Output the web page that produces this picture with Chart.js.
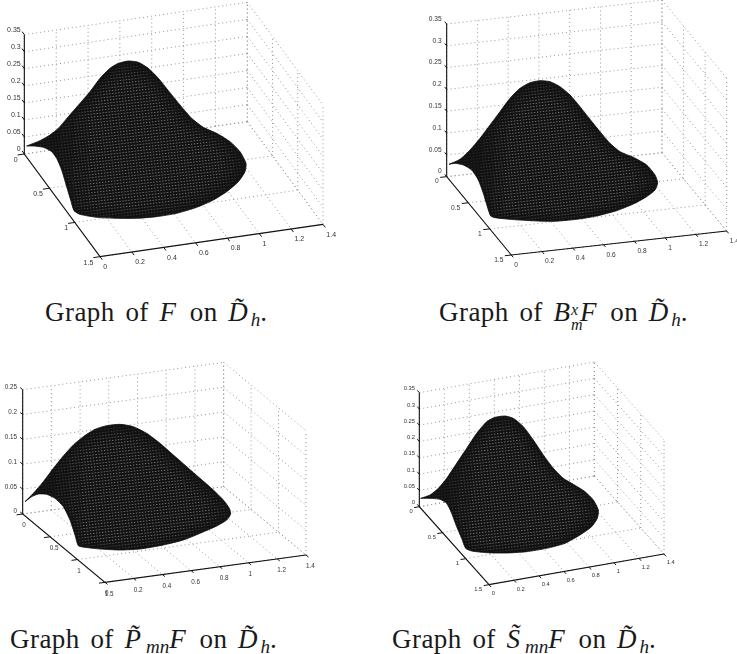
<!DOCTYPE html>
<html>
<head>
<meta charset="utf-8">
<script src="https://cdn.jsdelivr.net/npm/chart.js@4/dist/chart.umd.min.js"></script>
<style>
html,body{margin:0;padding:0;background:#fff;width:737px;height:654px;overflow:hidden}
canvas{position:absolute;display:block}
.cap{position:absolute;font-family:"Liberation Serif",serif;font-size:27px;line-height:30px;white-space:nowrap;color:#1a1a1a;letter-spacing:.45px;word-spacing:3.5px}
.cap i{letter-spacing:0;padding-right:3px}
.cap i.w{padding-right:5px}
.cap sub{font-size:19px;line-height:0;vertical-align:-5px;letter-spacing:2px}
.cap sub.mn{letter-spacing:4.5px}
.cap sub i{padding-right:0}
.st{display:inline-block;vertical-align:-9px;line-height:15px;font-size:16px;font-style:italic;text-align:left;margin:0 -3px 0 -2px}
.st span{display:block}
</style>
</head>
<body>
<div id="root"></div>
<script>
// ---- axis ticks ----
const xTicks = [0, 0.2, 0.4, 0.6, 0.8, 1, 1.2, 1.4];
const yTicks = [0, 0.5, 1, 1.5];
const zTicksTall = [0, 0.05, 0.1, 0.15, 0.2, 0.25, 0.3, 0.35];
const zTicksShort = [0, 0.05, 0.1, 0.15, 0.2, 0.25];
const xTickLabels = ['0', '0.2', '0.4', '0.6', '0.8', '1', '1.2', '1.4'];
const yTickLabels = ['0', '0.5', '1', '1.5'];
const zTallLabels = ['0', '0.05', '0.1', '0.15', '0.2', '0.25', '0.3', '0.35'];
const zShortLabels = ['0', '0.05', '0.1', '0.15', '0.2', '0.25'];

// ---- surface outlines in each view plane ----
const outlineFh = [80,120,150,175,205,240,270,300,330,355,385,415,445,475,505,540,575,610,650,690,720,738,735,715,680,640,590,530,470,410,350,290,240,222,212,200,185,170,155,130,100];
const outlineFv = [438,422,405,385,350,310,275,235,205,190,183,187,205,235,272,315,355,382,400,425,455,490,515,545,575,600,622,640,650,655,655,652,643,632,600,560,510,475,455,442,438];
const outlineBh = [207,240,270,300,330,360,390,420,450,480,510,540,570,600,630,660,690,720,760,800,825,833,825,800,760,710,650,590,520,450,390,345,332,322,310,295,275,250,225];
const outlineBv = [493,478,450,415,375,335,295,265,248,242,245,260,285,320,358,395,430,455,472,495,525,548,570,590,612,632,648,658,664,662,658,653,648,620,580,540,510,495,490];
const outlinePh = [75,100,130,160,190,220,250,285,320,360,400,440,480,520,560,600,640,670,688,692,680,650,600,550,490,420,360,300,255,235,225,210,190,165,140,115,95];
const outlinePv = [395,370,335,295,258,225,200,178,167,163,170,190,220,255,290,325,360,390,415,432,450,468,490,510,525,537,540,537,532,527,495,450,410,385,373,372,380];
const outlineSh = [122,150,175,200,230,260,290,320,345,375,400,430,460,490,520,550,580,615,640,655,652,635,600,555,500,440,380,320,275,257,245,230,215,200,180,150];
const outlineSv = [385,375,355,325,280,235,190,155,142,138,145,170,210,255,295,325,343,365,390,420,445,470,495,520,535,545,549,548,543,535,505,470,430,400,388,385];

const panels = [
 {left:0,top:0,w:340,h:280,vMin:0,A:[73,462],ex:[669,-97],ey:[227,308],H:358,zMax:.35,zT:zTicksTall,zL:zTallLabels,u:outlineFh,v:outlineFv,font:7,
  zo:[-11,-14],yo:[-20,18],yAlign:'right',xo:[10,31]},
 {left:380,top:0,w:357,h:280,vMin:0,A:[200,530],ex:[646,-72],ey:[194,235],H:458,zMax:.35,zT:zTicksTall,zL:zTallLabels,u:outlineBh,v:outlineBv,font:6.6,
  zo:[-15,-15],yo:[-24,15],yAlign:'right',xo:[9,30]},
 {left:0,top:350,w:340,h:260,vMin:-60,A:[68,432],ex:[603,-82],ey:[247,205],H:373,zMax:.25,zT:zTicksShort,zL:zShortLabels,u:outlinePh,v:outlinePv,font:6.3,
  zo:[-17,-7],yo:[-1,35],yAlign:'left',xo:[0,34]},
 {left:380,top:350,w:357,h:260,vMin:-60,A:[118,410],ex:[525,-92],ey:[209,234],H:342,zMax:.35,zT:zTicksTall,zL:zTallLabels,u:outlineSh,v:outlineSv,font:5.8,
  zo:[-13,-12],yo:[-20,15],yAlign:'right',xo:[8,26]}
];

function makeMeshPattern(dot,side){
  const t=document.createElement('canvas');t.width=3;t.height=3;
  const c=t.getContext('2d');
  c.fillStyle='#111111';c.fillRect(0,0,3,3);
  c.fillStyle=dot;c.fillRect(1,1,1,1);
  c.fillStyle=side;c.fillRect(2,1,1,1);
  const p=document.createElement('canvas').getContext('2d').createPattern(t,'repeat');
  p.setTransform(new DOMMatrix().rotate(-7));
  return p;
}

const tickLabelPlugin={
 id:'tickLabels',
 afterDatasetsDraw(chart,args,o){
  const c=chart.ctx,sx=chart.scales.x,sy=chart.scales.y,p=o.panel;
  const P=(x,y,z)=>project(p,x,y,z);
  c.save();
  c.font=p.font+'px "Liberation Sans"';c.fillStyle='#333';c.textBaseline='middle';
  const put=(q,off,txt,al)=>{c.textAlign=al;c.fillText(txt,sx.getPixelForValue(q.x+off[0]),sy.getPixelForValue(q.y+off[1]));};
  p.zT.forEach((z,i)=>put(P(0,0,z),p.zo,p.zL[i],'right'));
  yTicks.forEach((y,i)=>put(P(0,y,0),p.yo,yTickLabels[i],p.yAlign));
  xTicks.forEach((x,i)=>put(P(x,1.5,0),p.xo,xTickLabels[i],'left'));
  c.restore();
 }
};

function project(p,x,y,z){
  const a=x/1.4,b=y/1.5;
  return {x:p.A[0]+a*p.ex[0]+b*p.ey[0], y:p.A[1]+a*p.ex[1]+b*p.ey[1]-z/p.zMax*p.H};
}

panels.forEach((p,i)=>{
  const cv=document.createElement('canvas');
  cv.width=p.w;cv.height=p.h;
  cv.style.left=p.left+'px';cv.style.top=p.top+'px';cv.style.width=p.w+'px';cv.style.height=p.h+'px';
  document.getElementById('root').appendChild(cv);
  const P=(x,y,z)=>project(p,x,y,z);
  const gap={x:NaN,y:NaN};
  const zTop=p.zMax;
  const grid=[];
  const seg=(a,b)=>{grid.push(a,b,gap);};
  xTicks.forEach(x=>{seg(P(x,0,0),P(x,1.5,0));seg(P(x,0,0),P(x,0,zTop));});
  yTicks.forEach(y=>{seg(P(0,y,0),P(1.4,y,0));seg(P(1.4,y,0),P(1.4,y,zTop));});
  p.zT.forEach(z=>{seg(P(0,0,z),P(1.4,0,z));seg(P(1.4,0,z),P(1.4,1.5,z));});
  const axes=[P(0,0,zTop),P(0,0,0),P(0,1.5,0),P(1.4,1.5,0)];
  const ticks=[];
  const tk=(a,b)=>{ticks.push(a,b,gap);};
  p.zT.forEach(z=>tk(P(0,0,z),P(0,-.045,z)));
  yTicks.forEach(y=>tk(P(0,y,0),P(-.042,y,0)));
  xTicks.forEach(x=>tk(P(x,1.5,0),P(x,1.545,0)));
  const outline=p.u.map((h,k)=>({x:h,y:p.v[k]}));
  outline.push(outline[0]);
  let cx=0,cy=0;outline.forEach(q=>{cx+=q.x;cy+=q.y;});cx/=outline.length;cy/=outline.length;
  const minH=Math.min(...p.u),maxH=Math.max(...p.u);
  const shrink=(f,d,cut)=>{
    const body=outline.filter(q=>q.x>minH+cut*(maxH-minH));
    body.push(body[0]);
    return body.map(q=>({x:cx+(q.x-cx)*f,y:cy+(q.y-cy)*f+d}));
  };
  const layer=(label,data,fillStyle,order)=>({label,data,showLine:true,pointRadius:0,borderWidth:0,tension:.2,fill:'shape',backgroundColor:fillStyle,order});
  new Chart(cv,{
    type:'scatter',
    data:{datasets:[
      layer('mesh core',shrink(.82,6,.22),makeMeshPattern('#7a7a7a','#333'),0),
      layer('mesh mid',shrink(.9,4,.17),makeMeshPattern('#5c5c5c','#2b2b2b'),1),
      layer('mesh outer',shrink(.96,2,.12),makeMeshPattern('#3e3e3e','#222'),1.5),
      {label:'surface',data:outline,showLine:true,pointRadius:0,borderColor:'#0a0a0a',borderWidth:.8,tension:.2,fill:'shape',backgroundColor:makeMeshPattern('#282828','#181818'),order:2},
      {label:'axes',data:axes,showLine:true,pointRadius:0,borderColor:'#111',borderWidth:1.1,tension:0,order:3},
      {label:'ticks',data:ticks,showLine:true,pointRadius:0,borderColor:'#111',borderWidth:1,tension:0,order:4},
      {label:'grid',data:grid,showLine:true,pointRadius:0,borderColor:'#959595',borderWidth:1,borderDash:[1,3],tension:0,order:5}
    ]},
    options:{
      animation:false,responsive:false,maintainAspectRatio:false,
      layout:{padding:0},
      plugins:{legend:{display:false},tooltip:{enabled:false},tickLabels:{panel:p}},
      scales:{
        x:{type:'linear',display:false,min:0,max:p.w*3},
        y:{type:'linear',display:false,reverse:true,min:p.vMin,max:p.vMin+p.h*3}
      }
    },
    plugins:[tickLabelPlugin]
  });
});

const captions=[
 {l:45,t:297,html:'Graph of <i>F</i> on <i>D&#771;</i><sub><i>h</i></sub>.'},
 {l:439,t:297,html:'Graph of <i>B</i><span class="st"><span>x</span><span>m</span></span><i>F</i> on <i>D&#771;</i><sub><i>h</i></sub>.'},
 {l:10,t:624,html:'Graph of <i class="w">P&#771;</i><sub class="mn"><i>mn</i></sub><i>F</i> on <i>D&#771;</i><sub><i>h</i></sub>.'},
 {l:392,t:624,html:'Graph of <i class="w">S&#771;</i><sub class="mn"><i>mn</i></sub><i>F</i> on <i>D&#771;</i><sub><i>h</i></sub>.'}
];
captions.forEach(c=>{
  const d=document.createElement('div');d.className='cap';d.style.left=c.l+'px';d.style.top=c.t+'px';d.innerHTML=c.html;
  document.body.appendChild(d);
});
</script>
</body>
</html>
